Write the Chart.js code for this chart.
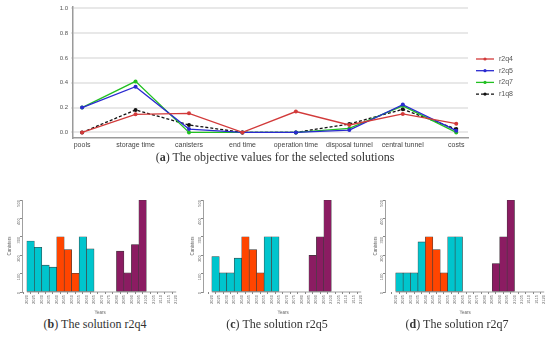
<!DOCTYPE html>
<html>
<head>
<meta charset="utf-8">
<script src="https://cdn.jsdelivr.net/npm/chart.js@4.4.1/dist/chart.umd.min.js"></script>
<style>
  body { margin: 0; width: 550px; height: 340px; background: #fff; position: relative; overflow: hidden; }
  canvas { position: absolute; }
  .cap { position: absolute; font-family: "Liberation Serif", serif; font-size: 12px; color: #333; white-space: nowrap; transform: translateX(-50%); }
</style>
</head>
<body>
<canvas id="lines" width="550" height="152" style="left:0;top:0"></canvas>
<div class="cap" style="left:275px;top:150px">(<b>a</b>) The objective values for the selected solutions</div>

<canvas id="histB" width="182" height="125" style="left:0;top:190px"></canvas>
<canvas id="histC" width="187" height="125" style="left:180px;top:190px"></canvas>
<canvas id="histD" width="190" height="125" style="left:360px;top:190px"></canvas>
<div class="cap" style="left:95px;top:317px">(<b>b</b>) The solution r2q4</div>
<div class="cap" style="left:277px;top:317px">(<b>c</b>) The solution r2q5</div>
<div class="cap" style="left:457px;top:317px">(<b>d</b>) The solution r2q7</div>

<script>
// objective values (normalised) per solution
const objectives = ['pools', 'storage time', 'canisters', 'end time', 'operation time', 'disposal tunnel', 'central tunnel', 'costs'];
const r2q4 = [0, 0.146, 0.154, 0, 0.168, 0.06, 0.149, 0.07];
const r2q5 = [0.2, 0.368, 0.027, 0, 0, 0.019, 0.224, 0.014];
const r2q7 = [0.2, 0.411, 0, 0, 0, 0.032, 0.214, 0];
const r1q8 = [0, 0.181, 0.06, 0, 0, 0.068, 0.186, 0.027];
const objTicks = [0, 0.2, 0.4, 0.6, 0.8, 1.0];

// canisters per 5-year bin
const years = ['2020', '2025', '2030', '2035', '2040', '2045', '2050', '2055', '2060', '2065', '2070',
               '2075', '2080', '2085', '2090', '2095', '2100', '2105', '2110', '2115', '2120'];
const phase = ['A', 'A', 'A', 'A', 'B', 'B', 'B', 'A', 'A', null, null, null, 'C', 'C', 'C', 'C', null, null, null, null];
const binsR2q4 = [277, 243, 146, 135, 300, 230, 102, 300, 234, null, null, null, 222, 104, 258, 500, null, null, null, null];
const binsR2q5 = [193, 104, 104, 184, 300, 230, 104, 300, 300, null, null, null, null, 199, 300, 500, null, null, null, null];
const binsR2q7 = [104, 104, 104, 272, 300, 230, 104, 300, 300, null, null, null, null, 155, 300, 500, null, null, null, null];
const canisterTicks = [0, 100, 200, 300, 400, 500];

const phaseColor = { A: '#00c5cd', B: '#ff4500', C: '#8b1c62' };

// legend drawn as line + dot, like the original
const lineLegend = {
  id: 'lineLegend',
  afterDraw(chart) {
    const ctx = chart.ctx;
    const x0 = chart.chartArea.right + 8;
    chart.data.datasets.forEach((ds, i) => {
      const y = 59 + i * 11.7;
      ctx.save();
      ctx.strokeStyle = ds.borderColor;
      ctx.lineWidth = 1.3;
      ctx.setLineDash(ds.borderDash || []);
      ctx.beginPath();
      ctx.moveTo(x0, y);
      ctx.lineTo(x0 + 18, y);
      ctx.stroke();
      ctx.fillStyle = ds.borderColor;
      ctx.beginPath();
      ctx.arc(x0 + 9, y, 1.6, 0, Math.PI * 2);
      ctx.fill();
      ctx.fillStyle = '#555';
      ctx.font = '7px "Liberation Sans", Arial, sans-serif';
      ctx.textBaseline = 'middle';
      ctx.fillText(ds.label, x0 + 23, y);
      ctx.restore();
    });
  }
};

// R-style x axis: line only from first to last tick
const rAxis = {
  id: 'rAxis',
  afterDraw(chart) {
    const x = chart.scales.x;
    const ctx = chart.ctx;
    ctx.save();
    ctx.strokeStyle = '#888';
    ctx.lineWidth = 0.8;
    ctx.beginPath();
    ctx.moveTo(x.getPixelForValue(0), x.top);
    ctx.lineTo(x.getPixelForValue(years.length - 1), x.top);
    ctx.stroke();
    ctx.restore();
  }
};

function series(label, values, color, dash) {
  return {
    label: label,
    data: values.map((v, i) => ({ x: i, y: v })),
    borderColor: color,
    backgroundColor: color,
    borderWidth: 1.3,
    borderDash: dash,
    pointRadius: 2,
    pointBorderWidth: 0,
    pointHoverRadius: 2,
    tension: 0
  };
}

new Chart(document.getElementById('lines'), {
  type: 'line',
  data: {
    datasets: [
      series('r2q4', r2q4, '#d23a3a'),
      series('r2q5', r2q5, '#2a2ad0'),
      series('r2q7', r2q7, '#22c022'),
      series('r1q8', r1q8, '#111', [3, 2])
    ]
  },
  options: {
    responsive: false,
    animation: false,
    layout: { padding: { left: 0, right: 82, top: 7, bottom: 0 } },
    plugins: { legend: { display: false }, tooltip: { enabled: false } },
    scales: {
      x: {
        type: 'linear', min: -0.17, max: 7.22,
        afterBuildTicks: s => { s.ticks = objectives.map((o, i) => ({ value: i })); },
        afterFit: s => { s.height = 14; },
        ticks: {
          callback: (v, i) => objectives[i],
          font: { size: 7, family: '"Liberation Sans", Arial, sans-serif' },
          color: '#444', maxRotation: 0, autoSkip: false, padding: 3
        },
        grid: { display: false, drawTicks: false },
        border: { color: '#9a9a9a', width: 1.5 }
      },
      y: {
        min: -0.045, max: 1.01,
        afterBuildTicks: s => { s.ticks = objTicks.map(v => ({ value: v })); },
        afterFit: s => { s.width = 73; },
        ticks: {
          callback: v => v.toFixed(1),
          font: { size: 6, family: '"Liberation Sans", Arial, sans-serif' },
          color: '#555', padding: 3
        },
        grid: { color: '#e8e8e8', lineWidth: 2, drawTicks: true, tickLength: 2 },
        border: { color: '#9a9a9a', width: 1.5 }
      }
    }
  },
  plugins: [lineLegend]
});

function histogram(id, values, padLeft, axisWidth, xMin, xMax) {
  const pts = [];
  const colors = [];
  values.forEach((v, i) => {
    if (v === null) return;
    pts.push({ x: i + 0.5, y: v });
    colors.push(phaseColor[phase[i]]);
  });
  new Chart(document.getElementById(id), {
    type: 'bar',
    data: {
      datasets: [{
        data: pts,
        backgroundColor: colors,
        borderColor: '#3a3a3a',
        borderWidth: 0.6,
        borderSkipped: false,
        barPercentage: 1,
        categoryPercentage: 1
      }]
    },
    options: {
      responsive: false,
      animation: false,
      layout: { padding: { left: padLeft, right: 0, top: 10, bottom: 0 } },
      plugins: { legend: { display: false }, tooltip: { enabled: false } },
      scales: {
        x: {
          type: 'linear', min: xMin, max: xMax, offset: false,
          afterBuildTicks: s => { s.ticks = years.map((y, i) => ({ value: i })); },
          afterFit: s => { s.height = 23; },
          ticks: {
            callback: (v, i) => years[i],
            font: { size: 4, family: '"Liberation Sans", Arial, sans-serif' },
            color: '#666', minRotation: 90, maxRotation: 90, autoSkip: false, padding: 1
          },
          title: { display: true, text: 'Years', font: { size: 4.5 }, color: '#666', padding: 0 },
          grid: { drawOnChartArea: false, tickLength: 2, color: '#888' },
          border: { display: false }
        },
        y: {
          min: 0, max: 500,
          afterBuildTicks: s => { s.ticks = canisterTicks.map(v => ({ value: v })); },
          afterFit: s => { s.width = axisWidth; },
          ticks: {
            font: { size: 4, family: '"Liberation Sans", Arial, sans-serif' },
            color: '#666', minRotation: 90, maxRotation: 90, padding: 1
          },
          title: { display: true, text: 'Canisters', font: { size: 4.5 }, color: '#666', padding: 0 },
          grid: { drawOnChartArea: false, tickLength: 2, color: '#888' },
          border: { color: '#888', width: 0.8 }
        }
      }
    },
    plugins: [rAxis]
  });
}

histogram('histB', binsR2q4, 7, 15, -0.65, 20.26);
histogram('histC', binsR2q5, 10, 13, -1.18, 20.26);
histogram('histD', binsR2q7, 13, 12, -1.44, 20.13);
</script>
</body>
</html>
